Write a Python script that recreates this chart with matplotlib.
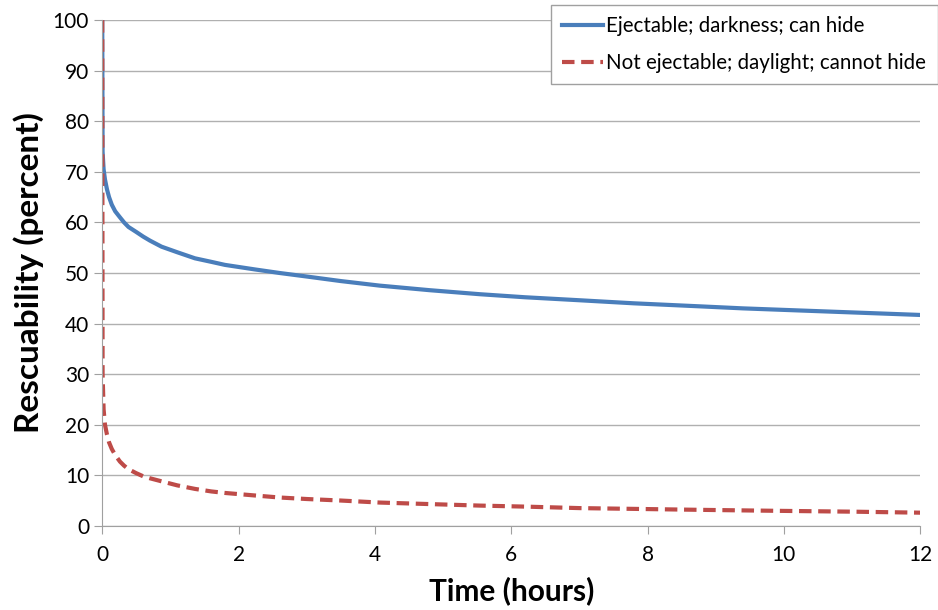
import numpy as np
import matplotlib.pyplot as plt

# values
time = [0, 0.005, 0.02, 0.04, 0.07, 0.1, 0.14, 0.19, 0.26, 0.32, 0.385, 0.5, 0.6, 0.7,
        0.87, 1.1, 1.36, 1.6, 1.8, 2.24, 2.6, 3, 3.5, 4.07, 4.8, 5.54, 6.2, 7.01, 7.8,
        8.77, 9.4, 10, 11, 12]
ejectable = [100, 74, 70.5, 68.5, 66.5, 65, 63.5, 62.2, 61, 60, 59.1, 58.1, 57.2, 56.4,
             55.2, 54.1, 52.9, 52.2, 51.6, 50.7, 50.0, 49.3, 48.4, 47.5, 46.6, 45.8,
             45.2, 44.6, 44.0, 43.4, 43.0, 42.7, 42.2, 41.7]
not_ejectable = [100, 30, 23, 20, 18, 16.5, 15.2, 14, 12.7, 11.9, 11.2, 10.4, 9.8, 9.4,
                 8.8, 8.0, 7.3, 6.8, 6.5, 6.0, 5.6, 5.3, 5.0, 4.6, 4.3, 4.0, 3.8, 3.5,
                 3.35, 3.16, 3.05, 2.95, 2.8, 2.6]

xticks = [0, 2, 4, 6, 8, 10, 12]
yticks = [0, 10, 20, 30, 40, 50, 60, 70, 80, 90, 100]

plt.rcParams['font.family'] = ['Lato', 'DejaVu Sans']

fig = plt.figure(figsize=(9.38, 6.1), dpi=100)
ax = fig.add_axes([0.109, 0.138, 0.872, 0.829])

ax.plot(time, ejectable, linestyle='solid', color='#4a7ebb', linewidth=3,
        label='Ejectable; darkness; can hide')
ax.plot(time, not_ejectable, linestyle=(0, (3, 1.6)), color='#be4b48', linewidth=3,
        label='Not ejectable; daylight; cannot hide')

ax.set_xlim(0, 12)
ax.set_ylim(0, 100)
ax.set_xticks(xticks)
ax.set_yticks(yticks)
ax.tick_params(labelsize=15, color='#a0a0a0', length=6)
ax.tick_params(axis='x', pad=8)
ax.grid(axis='y', color='#b0b0b0', linewidth=1)
ax.set_axisbelow(True)
for s in ['top', 'right']:
    ax.spines[s].set_visible(False)
for s in ['left', 'bottom']:
    ax.spines[s].set_color('#a0a0a0')

ax.set_xlabel('Time (hours)', fontsize=21.5, fontweight='bold', labelpad=8)
ax.set_ylabel('Rescuability (percent)', fontsize=24, fontweight='bold', labelpad=6)

leg = fig.legend(loc='upper left', bbox_to_anchor=(551 / 938, 1 - 5 / 610), fontsize=14.8,
                 fancybox=False, framealpha=1, edgecolor='#a0a0a0', handlelength=2.0,
                 handletextpad=0.15, borderpad=0.55, borderaxespad=0, labelspacing=0.8)
leg.get_frame().set_linewidth(1)

fig.savefig('out.png', dpi=100)
